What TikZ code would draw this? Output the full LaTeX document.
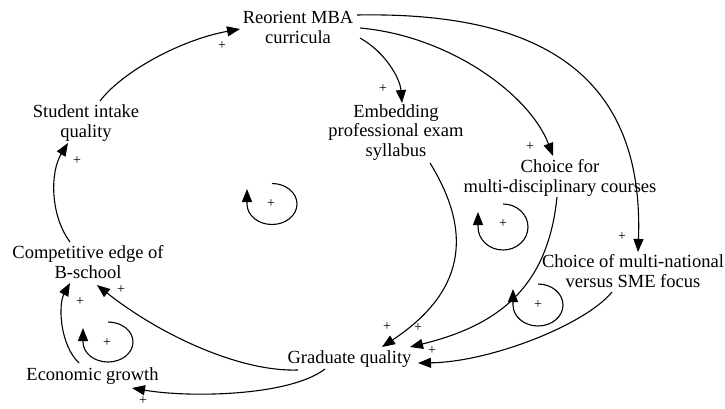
\documentclass[tikz,border=0pt]{standalone}
\usepackage{fontspec}
\setmainfont{Liberation Serif}
\usetikzlibrary{arrows.meta}
\begin{document}
\begin{tikzpicture}[x=1pt,y=-1pt,
  lbl/.style={anchor=base,align=center,inner sep=0pt,font=\fontsize{18.5}{19.5}\selectfont},
  pol/.style={inner sep=0pt,font=\fontsize{14}{14}\selectfont},
  link/.style={line width=1.1pt,-{Triangle[length=13pt,width=10pt]}},
  fbloop/.style={line width=1.1pt,-{Triangle[length=13pt,width=10pt]}}]
\useasboundingbox (0,0) rectangle (725,408);

% variables (base = baseline of the last line)
\node[lbl] (reorient) at (298,43)   {Reorient MBA\\curricula};
\node[lbl] (student)  at (86,137)   {Student intake\\quality};
\node[lbl] (embed)    at (396,156)  {Embedding\\professional exam\\syllabus};
\node[lbl] (choicea)  at (560,192)  {Choice for\\multi-disciplinary courses};
\node[lbl] (choiceb)  at (633,287)  {Choice of multi-national\\versus SME focus};
\node[lbl] (comp)     at (88,278)   {Competitive edge of\\B-school};
\node[lbl] (econ)     at (92.5,380) {Economic growth};
\node[lbl] (grad)     at (349.5,363){Graduate quality};

% causal links
\draw[link] ([shift={(14,-36)}]student.base) .. controls (122,72) and (180,40) .. ([shift={(-58,-14)}]reorient.base);
\draw[link] ([shift={(-18,-36)}]comp.base) .. controls (50,215) and (50,172) .. ([shift={(-18,6)}]student.base);
\draw[link] ([shift={(62,-5)}]reorient.base) .. controls (385,52) and (400,78) .. ([shift={(6,-53)}]embed.base);
\draw[link] ([shift={(62,-15)}]reorient.base) .. controls (450,36) and (530,95) .. ([shift={(-7,-36)}]choicea.base);
\draw[link] ([shift={(59,-28)}]reorient.base) .. controls (520,12) and (645,60) .. ([shift={(5,-35)}]choiceb.base);
\draw[link] ([shift={(34,7)}]embed.base) .. controls (480,244) and (454,299) .. ([shift={(32.5,-16)}]grad.base);
\draw[link] ([shift={(-3,5)}]choicea.base) .. controls (548,286) and (500,325) .. ([shift={(60.5,-16)}]grad.base);
\draw[link] ([shift={(-21,5)}]choiceb.base) .. controls (585,325) and (490,362) .. ([shift={(68.5,0)}]grad.base);
\draw[link] ([shift={(-51.5,7)}]grad.base) .. controls (240,372) and (160,335) .. ([shift={(9,7)}]comp.base);
\draw[link] ([shift={(-24.5,6)}]grad.base) .. controls (290,396) and (190,398) .. ([shift={(39.5,8)}]econ.base);
\draw[link] ([shift={(-13.5,-17)}]econ.base) .. controls (60,345) and (58,305) .. ([shift={(-18,5)}]comp.base);

% link polarities
\node[pol] (p1)  at (222,46)  {+};
\node[pol] (p2)  at (77,161)  {+};
\node[pol] (p3)  at (383,89)  {+};
\node[pol] (p4)  at (530,147) {+};
\node[pol] (p5)  at (622,237) {+};
\node[pol] (p6)  at (387,327) {+};
\node[pol] (p7)  at (418,328) {+};
\node[pol] (p8)  at (432,351) {+};
\node[pol] (p9)  at (121,290) {+};
\node[pol] (p10) at (143,401) {+};
\node[pol] (p11) at (80,302)  {+};

% reinforcing loop markers
\draw[fbloop] (272,183.5) arc[start angle=270,end angle=540,x radius=25,y radius=20.5] -- ++(0,-15);
\node[pol] (l1) at (271,204) {+};
\draw[fbloop] (503,204) arc[start angle=270,end angle=540,x radius=25,y radius=23] -- ++(0,-15);
\node[pol] (l2) at (503,224) {+};
\draw[fbloop] (538,284) arc[start angle=270,end angle=540,x radius=25,y radius=21] -- ++(0,-16);
\node[pol] (l3) at (538,305) {+};
\draw[fbloop] (108,322) arc[start angle=270,end angle=540,x radius=25,y radius=20] -- ++(0,-14);
\node[pol] (l4) at (107,343) {+};
\end{tikzpicture}
\end{document}
